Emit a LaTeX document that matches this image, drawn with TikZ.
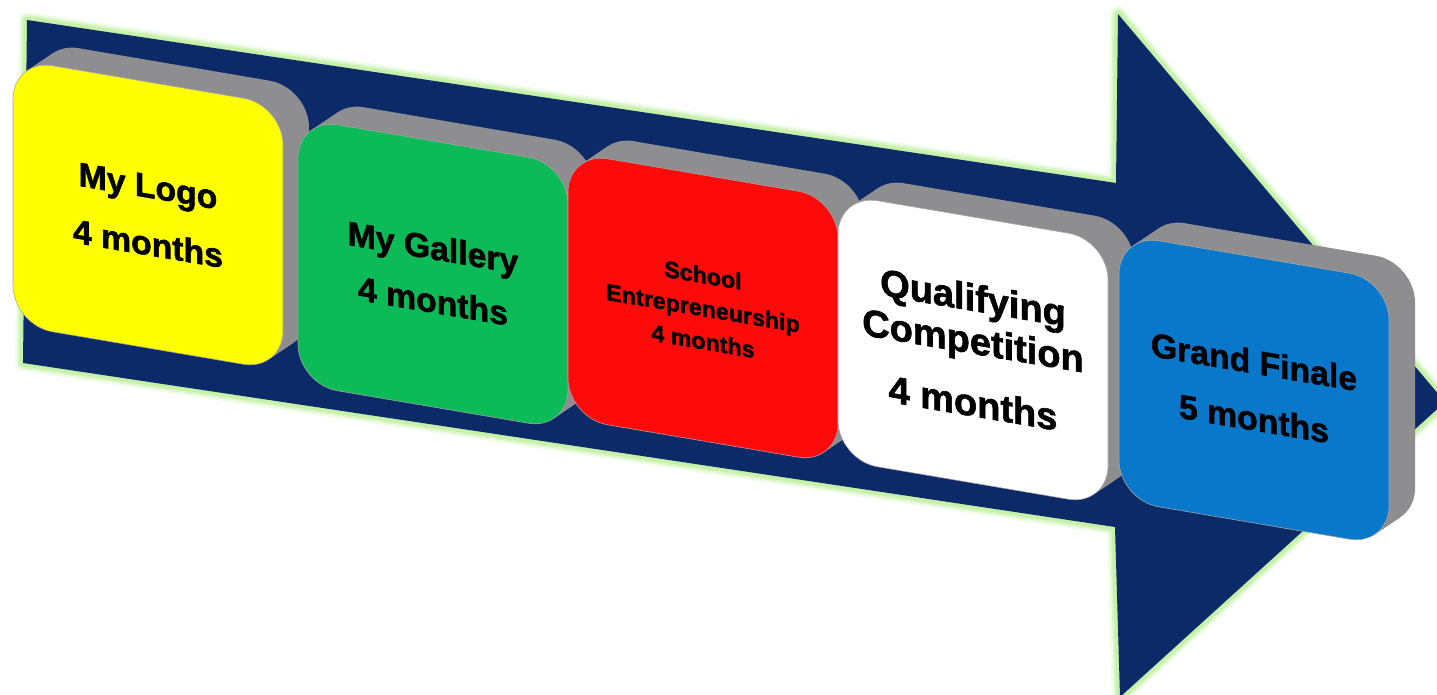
\documentclass[tikz,border=0pt]{standalone}
\usepackage{fontspec}
\setmainfont{Liberation Sans}
\newfontfamily\blockfont[FakeBold=1.6]{Liberation Sans Bold}
\definecolor{navy}{RGB}{12,42,104}
\definecolor{glow}{RGB}{196,240,166}
\definecolor{slab}{RGB}{142,142,144}
\definecolor{logoyellow}{RGB}{255,255,0}
\definecolor{gallerygreen}{RGB}{12,186,88}
\definecolor{schoolred}{RGB}{255,10,10}
\definecolor{finaleblue}{RGB}{10,120,202}
\begin{document}
\begin{tikzpicture}
	[x=0.05cm, y=-0.05cm,
	face/.style={rectangle, rounded corners=2cm, minimum width=13.5cm,
		minimum height=13.3cm, inner sep=0pt, transform shape, align=center},
	front/.style={face, draw=gray!70, line width=0.8pt},
	back/.style={face, fill=slab}]
	\useasboundingbox (0,0) rectangle (1437,695);
	% arrow
	\coordinate (tailtop) at (27,20);
	\coordinate (notchtop) at (1116,183);
	\coordinate (barbtop) at (1118,14);
	\coordinate (tip) at (1445,402);
	\coordinate (barbbot) at (1120,697);
	\coordinate (notchbot) at (1115,527);
	\coordinate (tailbot) at (23,363);
	\foreach \w/\o in {16/0.25, 11/0.5, 7/0.9}
		\draw[glow, line width=\w*0.05cm, line join=round, opacity=\o]
		(tailtop) -- (notchtop) -- (barbtop) -- (tip) -- (barbbot)
		-- (notchbot) -- (tailbot) -- cycle;
	\fill[navy] (tailtop) -- (notchtop) -- (barbtop) -- (tip) -- (barbbot)
		-- (notchbot) -- (tailbot) -- cycle;
	% blocks
	\foreach \name/\cx/\cy/\col/\fs/\sk/\txt in {
		logo/148/215/logoyellow/48/82/{My Logo\\4 months},
		gallery/433/274/gallerygreen/48/76/{My Gallery\\4 months},
		school/703/308/schoolred/33/47/{School\\Entrepreneurship\\4 months},
		qualify/973/350/white/54/61/{Qualifying\\Competition\\[28pt]4 months},
		finale/1254/390/finaleblue/48/81/{Grand Finale\\5 months}}
	{
		\begin{scope}[shift={(\cx,\cy)}, yslant=-0.17]
			\foreach \t in {1,0.95,...,0.04}
				\node[back] at (\t*26,-\t*22) {};
			\node[front, fill=\col, font=\blockfont\fontsize{\fs}{\sk}\selectfont]
				(\name) at (0,0) {\txt};
		\end{scope}
	}
\end{tikzpicture}
\end{document}
